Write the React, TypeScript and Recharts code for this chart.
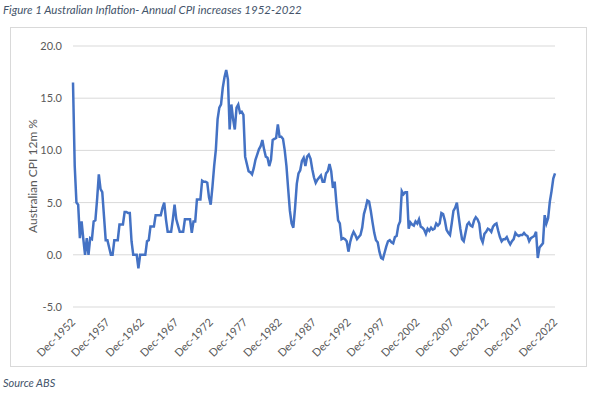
import React from "react";
import { LineChart, Line, XAxis, YAxis, CartesianGrid } from "recharts";

// quarterly annual CPI change, Dec-1952 first, then Mar/Jun/Sep/Dec per year
const firstValue = 16.5;
const startYear = 1953;
const quarterNames = ["Mar", "Jun", "Sep", "Dec"];
const cpiByYear: number[][] = [
  [8.5, 5.0, 4.8, 1.6], // 1953
  [3.2, 1.5, 0.0, 1.6],
  [0.0, 1.6, 1.5, 3.2],
  [3.3, 5.3, 7.7, 6.3],
  [6.0, 3.7, 1.4, 1.4],
  [0.7, 0.0, 0.0, 1.4],
  [1.4, 1.4, 2.9, 2.9],
  [2.9, 4.1, 4.1, 4.0], // 1960
  [4.0, 1.3, 0.0, 0.0],
  [0.0, -1.3, 0.0, 0.0],
  [0.0, 0.0, 1.3, 1.4],
  [2.7, 2.7, 2.7, 3.8],
  [3.8, 3.8, 3.8, 4.5],
  [5.0, 3.4, 2.2, 2.2],
  [2.2, 3.4, 4.8, 3.4],
  [2.8, 2.2, 2.2, 2.2],
  [3.4, 3.4, 3.4, 3.4],
  [2.1, 3.2, 3.2, 5.3], // 1970
  [5.3, 5.3, 7.1, 7.0],
  [7.0, 6.9, 5.5, 4.8],
  [6.5, 8.5, 10.1, 13.0],
  [14.1, 14.4, 16.0, 17.0],
  [17.7, 16.8, 12.0, 14.4],
  [13.0, 12.0, 14.1, 14.4],
  [13.6, 13.7, 13.4, 9.4],
  [8.7, 8.0, 7.9, 7.7],
  [8.3, 9.1, 9.6, 10.1],
  [10.4, 11.0, 10.1, 9.4], // 1980
  [9.3, 8.5, 9.1, 11.0],
  [11.1, 11.2, 12.5, 11.3],
  [11.3, 11.1, 10.0, 8.5],
  [6.3, 4.2, 3.0, 2.6],
  [4.5, 6.8, 7.8, 8.1],
  [9.0, 9.3, 8.5, 9.4],
  [9.6, 9.2, 8.2, 7.4],
  [6.9, 7.2, 7.4, 7.6],
  [7.0, 7.0, 7.8, 8.0],
  [8.7, 8.0, 6.4, 7.0], // 1990
  [5.0, 3.3, 3.0, 1.5],
  [1.6, 1.5, 1.3, 0.3],
  [1.2, 1.8, 2.2, 1.9],
  [1.5, 1.7, 1.9, 2.6],
  [3.9, 4.5, 5.2, 5.1],
  [4.2, 3.1, 2.1, 1.4],
  [1.2, 0.3, -0.3, -0.4],
  [0.2, 0.8, 1.3, 1.4],
  [1.2, 1.1, 1.7, 1.8],
  [2.8, 3.2, 6.1, 5.8], // 2000
  [6.0, 6.0, 2.5, 3.1],
  [2.9, 2.8, 3.2, 3.0],
  [3.4, 2.7, 2.6, 2.4],
  [2.0, 2.5, 2.3, 2.6],
  [2.4, 2.5, 3.0, 2.8],
  [3.0, 4.0, 3.9, 3.3],
  [2.4, 2.1, 1.9, 3.0],
  [4.2, 4.5, 5.0, 3.7],
  [2.5, 1.5, 1.3, 2.1],
  [2.9, 3.1, 2.8, 2.7], // 2010
  [3.3, 3.6, 3.4, 3.0],
  [1.6, 1.2, 2.0, 2.2],
  [2.5, 2.4, 2.2, 2.7],
  [2.9, 3.0, 2.3, 1.7],
  [1.3, 1.5, 1.5, 1.7],
  [1.3, 1.0, 1.3, 1.5],
  [2.1, 1.9, 1.8, 1.9],
  [1.9, 2.1, 1.9, 1.8],
  [1.3, 1.6, 1.7, 1.8],
  [2.2, -0.3, 0.7, 0.9], // 2020
  [1.1, 3.8, 3.0, 3.5],
  [5.1, 6.1, 7.3, 7.8],
];

const xTicks = [
  "Dec-1952", "Dec-1957", "Dec-1962", "Dec-1967", "Dec-1972",
  "Dec-1977", "Dec-1982", "Dec-1987", "Dec-1992", "Dec-1997",
  "Dec-2002", "Dec-2007", "Dec-2012", "Dec-2017", "Dec-2022",
];
const yTicks = [-5, 0, 5, 10, 15, 20];

const data = [
  { quarter: "Dec-1952", cpi: firstValue },
  ...cpiByYear.flatMap((vals, i) =>
    vals.map((v, j) => ({ quarter: `${quarterNames[j]}-${startYear + i}`, cpi: v }))
  ),
];

const textColor = "#595959";
const font = "Lato, 'Open Sans', sans-serif";

function XTick({ x, y, payload }: any) {
  return (
    <text
      transform={`translate(${x + 3},${y + 8}) rotate(-45)`}
      textAnchor="end"
      fontSize={11}
      fill={textColor}
      fontFamily={font}
    >
      {payload.value}
    </text>
  );
}

export default function App() {
  return (
    <div
      style={{
        position: "absolute",
        left: 0,
        top: 0,
        width: 591,
        height: 398,
        background: "#fff",
        fontFamily: font,
      }}
    >
      <div
        style={{
          position: "absolute",
          left: 3,
          top: 3,
          fontSize: 11.5,
          fontStyle: "italic",
          color: "#44546A",
          whiteSpace: "nowrap",
        }}
      >
        Figure 1 Australian Inflation- Annual CPI increases 1952-2022
      </div>
      <div
        style={{
          position: "absolute",
          left: 10,
          top: 27,
          width: 577,
          height: 340,
          border: "1px solid #D9D9D9",
          boxSizing: "border-box",
        }}
      />
      <div
        style={{
          position: "absolute",
          left: 3,
          top: 376,
          fontSize: 11,
          fontStyle: "italic",
          color: "#44546A",
        }}
      >
        Source ABS
      </div>
      <div
        style={{
          position: "absolute",
          left: 32,
          top: 176,
          transform: "translate(-50%, -50%) rotate(-90deg)",
          fontSize: 12,
          color: textColor,
          whiteSpace: "nowrap",
        }}
      >
        Australian CPI 12m %
      </div>
      <div style={{ position: "absolute", left: 0, top: 0 }}>
        <LineChart
          width={591}
          height={398}
          data={data}
          margin={{ top: 46, right: 36, bottom: 31, left: 0 }}
        >
          <CartesianGrid vertical={false} stroke="#D9D9D9" />
          <XAxis
            dataKey="quarter"
            ticks={xTicks}
            interval={0}
            tick={<XTick />}
            tickLine={false}
            axisLine={false}
            height={60}
          />
          <YAxis
            domain={[-5, 20]}
            ticks={yTicks}
            width={73}
            tickLine={false}
            axisLine={false}
            tickSize={0}
            tickMargin={11}
            tickFormatter={(v: number) => v.toFixed(1)}
            tick={{ fontSize: 11, fill: textColor, fontFamily: font }}
          />
          <Line
            type="linear"
            dataKey="cpi"
            stroke="#4472C4"
            strokeWidth={2.5}
            dot={false}
            isAnimationActive={false}
          />
        </LineChart>
      </div>
    </div>
  );
}
